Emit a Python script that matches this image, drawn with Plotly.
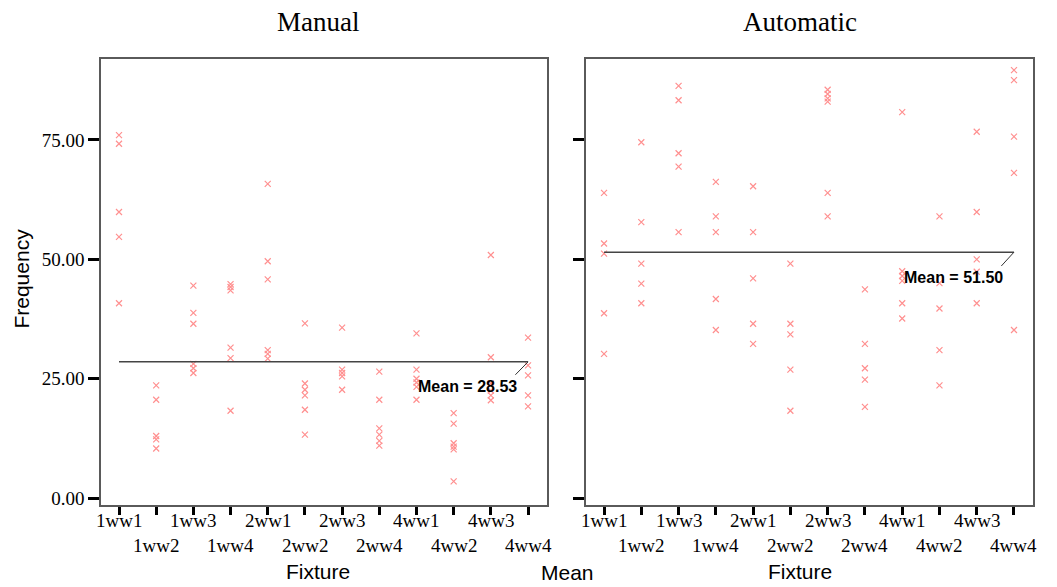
import plotly.graph_objects as go

fixtures = ['1ww1', '1ww2', '1ww3', '1ww4', '2ww1', '2ww2',
            '2ww3', '2ww4', '4ww1', '4ww2', '4ww3', '4ww4']

manual_values = [
    [76.0, 74.2, 59.9, 54.7, 40.8],
    [23.6, 20.6, 13.0, 12.3, 10.4],
    [44.5, 38.8, 36.5, 28.1, 27.2, 26.2],
    [44.8, 44.2, 43.5, 31.5, 29.3, 18.3],
    [65.8, 49.6, 45.8, 31.0, 30.2, 29.2],
    [36.6, 24.0, 22.7, 21.5, 18.5, 13.3],
    [35.7, 26.9, 26.2, 25.5, 22.7],
    [26.5, 20.6, 14.6, 13.3, 12.0, 11.0],
    [34.5, 26.9, 25.0, 24.2, 23.3, 20.6],
    [17.8, 15.6, 11.5, 10.8, 10.2, 3.5],
    [50.9, 29.5, 24.0, 22.5, 21.5, 20.5],
    [33.6, 27.8, 25.7, 21.5, 19.2],
]

auto_values = [
    [63.9, 53.3, 51.2, 38.7, 30.2],
    [74.5, 57.8, 49.1, 44.9, 40.8],
    [86.3, 83.3, 72.2, 69.4, 55.7],
    [66.2, 59.0, 55.7, 41.7, 35.2],
    [65.3, 55.7, 46.0, 36.5, 32.3],
    [49.1, 36.5, 34.3, 26.9, 18.3],
    [85.5, 84.6, 83.7, 83.0, 63.9, 59.0],
    [43.7, 32.3, 27.2, 24.8, 19.1],
    [80.8, 47.5, 46.5, 45.5, 40.8, 37.6],
    [59.0, 45.0, 39.7, 31.0, 23.6],
    [76.7, 59.9, 50.0, 47.4, 40.8],
    [89.6, 87.5, 75.7, 68.1, 35.2],
]

manual_mean = 28.53
auto_mean = 51.50

y_ticks = [0, 25, 50, 75]
y_ticktext = ['0.00', '25.00', '50.00', '75.00']

W, H = 1057, 587

def px_x(p):
    return p / W

def px_y(p):
    return 1 - p / H

fig = go.Figure()

marker_style = dict(symbol='x-thin-open', size=6, color='#ff9090',
                    line=dict(color='#ff9090', width=1.2))

for axis_suffix, values in (('', manual_values), ('2', auto_values)):
    xs, ys = [], []
    for fx, vals in zip(fixtures, values):
        for v in vals:
            xs.append(fx)
            ys.append(v)
    fig.add_trace(go.Scatter(x=xs, y=ys, mode='markers', marker=marker_style,
                             xaxis='x' + axis_suffix, yaxis='y' + axis_suffix,
                             showlegend=False, hoverinfo='x+y'))

xaxis_common = dict(type='category', categoryarray=fixtures, categoryorder='array',
                    range=[-0.484, 11.51], tickvals=fixtures, showticklabels=False,
                    ticks='outside', ticklen=8, tickwidth=3, tickcolor='black',
                    showline=True, mirror=True, linecolor='#5a5a5a', linewidth=1.5,
                    showgrid=False, zeroline=False)
yaxis_common = dict(range=[-1.52, 92.0], tickvals=y_ticks, ticktext=y_ticktext,
                    ticks='outside', ticklen=11, tickwidth=3, tickcolor='black',
                    showline=True, mirror=True, linecolor='#5a5a5a', linewidth=1.5,
                    showgrid=False, zeroline=False,
                    tickfont=dict(family='Liberation Serif', size=19, color='black'),
                    domain=[px_y(508), px_y(59)])

fig.update_layout(
    width=W, height=H,
    margin=dict(l=0, r=0, t=0, b=0),
    paper_bgcolor='white', plot_bgcolor='white',
    xaxis=dict(xaxis_common, domain=[px_x(101), px_x(547)], anchor='y'),
    yaxis=dict(yaxis_common, anchor='x'),
    xaxis2=dict(xaxis_common, domain=[px_x(586), px_x(1033)], anchor='y2'),
    yaxis2=dict(yaxis_common, anchor='x2', showticklabels=False),
)

# Staggered category labels (two rows)
tick_font = dict(family='Liberation Serif', size=19, color='black')
for xr in ('x', 'x2'):
    for i, fx in enumerate(fixtures):
        fig.add_annotation(xref=xr, yref='paper', x=fx,
                           y=px_y(523 if i % 2 == 0 else 548),
                           text=fx, showarrow=False, font=tick_font,
                           xanchor='center', yanchor='middle')

# Mean lines with leader and label
for xr, yr, mean_val, dy, label_y in (('x', 'y', manual_mean, 2.7, manual_mean - 5.1),
                                      ('x2', 'y2', auto_mean, 2.9, auto_mean - 5.4)):
    fig.add_shape(type='line', xref=xr, yref=yr, x0=0, x1=11, y0=mean_val, y1=mean_val,
                  line=dict(color='#444444', width=1.5))
    fig.add_shape(type='line', xref=xr, yref=yr, x0=11, x1=10.66, y0=mean_val,
                  y1=mean_val - dy, line=dict(color='#333333', width=1))
    fig.add_annotation(xref=xr, yref=yr, x=10.77, y=label_y, xanchor='right',
                       yanchor='middle', showarrow=False,
                       text=f'<b>Mean = {mean_val:.2f}</b>',
                       font=dict(family='Liberation Sans', size=16, color='black'))

serif = dict(family='Liberation Serif', size=27, color='black')
sans = dict(family='Liberation Sans', size=21, color='black')

fig.add_annotation(xref='paper', yref='paper', x=px_x(318), y=px_y(22), text='Manual',
                   showarrow=False, font=serif, xanchor='center', yanchor='middle')
fig.add_annotation(xref='paper', yref='paper', x=px_x(800), y=px_y(22), text='Automatic',
                   showarrow=False, font=serif, xanchor='center', yanchor='middle')
fig.add_annotation(xref='paper', yref='paper', x=px_x(318), y=px_y(574), text='Fixture',
                   showarrow=False, font=sans, xanchor='center', yanchor='middle')
fig.add_annotation(xref='paper', yref='paper', x=px_x(800), y=px_y(574), text='Fixture',
                   showarrow=False, font=sans, xanchor='center', yanchor='middle')
fig.add_annotation(xref='paper', yref='paper', x=px_x(567), y=px_y(575), text='Mean',
                   showarrow=False, font=sans, xanchor='center', yanchor='middle')
fig.add_annotation(xref='paper', yref='paper', x=px_x(22), y=px_y(280), text='Frequency',
                   showarrow=False, font=sans, textangle=-90,
                   xanchor='center', yanchor='middle')

fig.write_html('out.html', config={'displayModeBar': False},
               post_script="document.body.style.margin='0';document.body.style.overflow='hidden';")
